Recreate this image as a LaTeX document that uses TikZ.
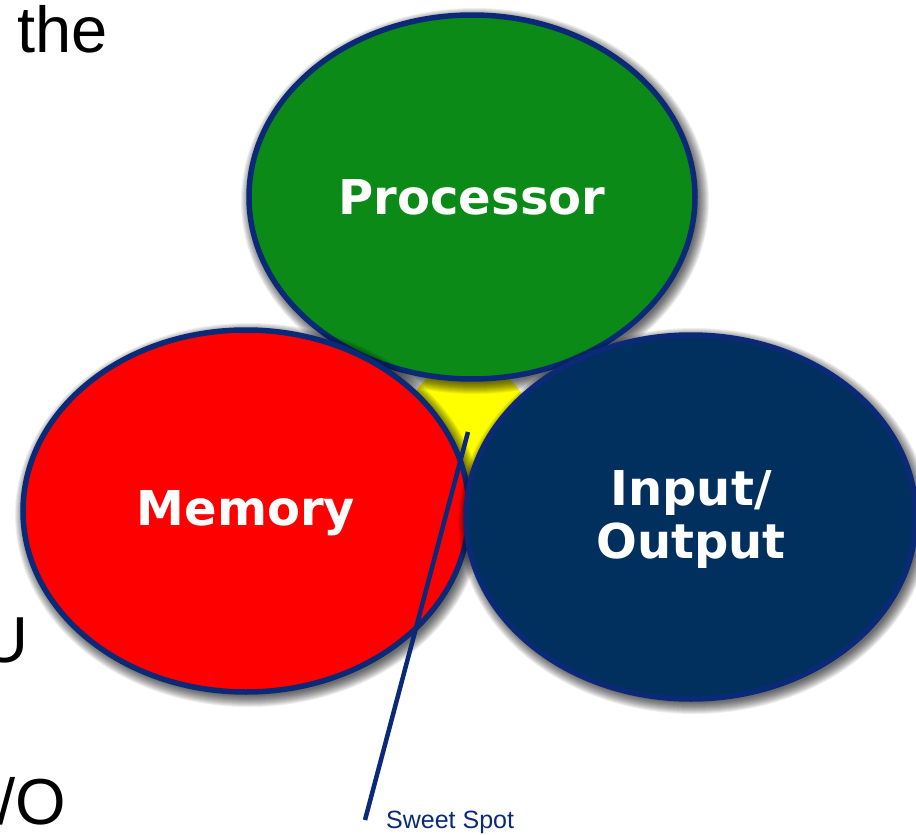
\documentclass[tikz,border=0pt]{standalone}
\usepackage{fontspec}
\setmainfont{Liberation Sans}
\newfontfamily\labelfont{DejaVu Sans}
\usetikzlibrary{shapes.geometric}
\definecolor{outl}{HTML}{0A2A78}
\definecolor{procg}{HTML}{0C8A17}
\definecolor{memr}{HTML}{FF0000}
\definecolor{ionavy}{HTML}{012F5E}
\definecolor{sweet}{HTML}{FFFF00}
\tikzset{
  blob/.style={ellipse, draw=outl, line width=5.5pt, inner sep=0pt},
  blobtext/.style={text=white, inner sep=0pt, font=\labelfont\bfseries\fontsize{48}{53}\selectfont, align=center},
  bigtext/.style={font=\fontsize{65}{70}\selectfont, text=black, inner sep=0pt},
}
\newcommand{\blobshadow}[4]{%
  \foreach \k in {1,...,12}{%
    \fill[black, opacity=0.065] (#1+3,#2+4) ellipse ({#3+12-\k} and {#4+12-\k});
  }%
}
\begin{document}
\begin{tikzpicture}[x=1pt,y=-1pt]
\useasboundingbox (0,0) rectangle (916,835);
\clip (0,0) rectangle (916,835);
\fill[white] (0,0) rectangle (916,835);
% left fragments of slide text
\node[bigtext, anchor=base west] (t1) at (17,52) {the};
\node[bigtext, anchor=base west] (t2) at (-19,662) {U};
\node[bigtext, anchor=base east] (t3) at (66,824) {/O};
% yellow centre
\fill[sweet] (468,425) circle (62);
% processor
\blobshadow{472}{197}{223}{182}
\node[blob, fill=procg, minimum width=446pt, minimum height=364pt] (proc) at (472,197) {};
\node[blobtext] (proct) at (472,197) {Processor};
% memory
\blobshadow{246}{511}{223}{181}
\node[blob, fill=memr, minimum width=446pt, minimum height=362pt] (mem) at (246,511) {};
\node[blobtext] (memt) at (246,513) {Memory};
% input/output
\blobshadow{691}{517}{225}{182}
\node[blob, fill=ionavy, minimum width=450pt, minimum height=364pt] (io) at (691,517) {};
\node[blobtext] (iot) at (691,519) {Input/\\Output};
% sweet spot pointer
\coordinate (spot) at (468,432);
\coordinate (tip) at (365,820);
\draw[outl, line width=4.5pt] (spot) -- (tip);
\node[anchor=base west, inner sep=0pt, text=outl, font=\fontsize{25}{28}\selectfont] (lbl) at (386,828) {Sweet Spot};
\end{tikzpicture}
\end{document}
